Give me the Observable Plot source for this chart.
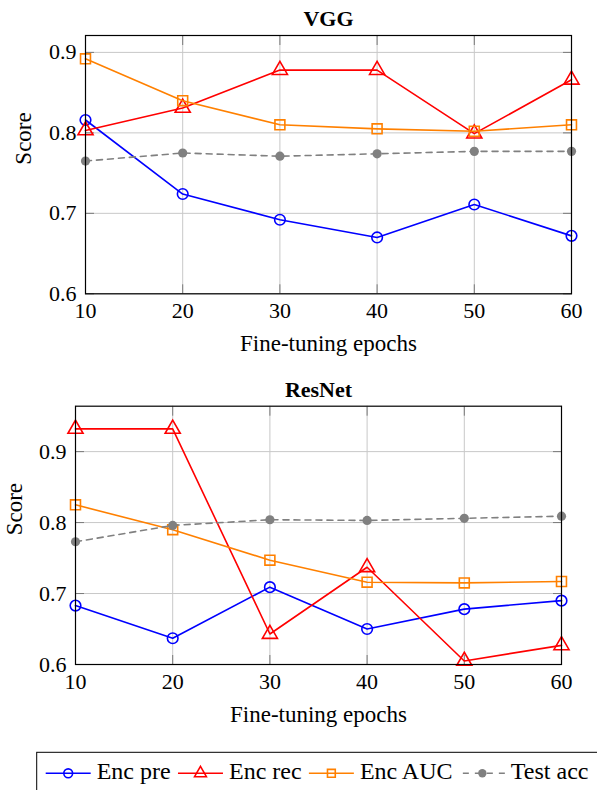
<!DOCTYPE html>
<html><head><meta charset="utf-8">
<script src="https://cdn.jsdelivr.net/npm/d3@7"></script>
<script src="https://cdn.jsdelivr.net/npm/@observablehq/plot@0.6"></script>
<style>
body{margin:0;background:#fff;}
#chart{width:597px;overflow:hidden;}
#chart svg{display:block;}
#chart svg, #chart svg text{font-family:"Liberation Serif","DejaVu Serif",serif !important;}
</style>
</head><body><div id="chart"></div>
<script>
const epochs = [10, 20, 30, 40, 50, 60];
const yTicks = [0.6, 0.7, 0.8, 0.9];
const seriesNames = ["Enc pre", "Enc rec", "Enc AUC", "Test acc"];
const seriesColors = ["#0000ff", "#ff0000", "#ff8000", "#808080"];
const seriesSymbols = ["circle", "triangle", "square", "circle"];

const vggEncPre  = [0.816, 0.724, 0.692, 0.670, 0.711, 0.672];
const vggEncRec  = [0.803, 0.831, 0.878, 0.878, 0.799, 0.866];
const vggEncAUC  = [0.892, 0.840, 0.810, 0.805, 0.802, 0.810];
const vggTestAcc = [0.765, 0.775, 0.771, 0.774, 0.777, 0.777];

const resEncPre  = [0.683, 0.637, 0.709, 0.650, 0.678, 0.690];
const resEncRec  = [0.932, 0.932, 0.643, 0.737, 0.605, 0.627];
const resEncAUC  = [0.825, 0.790, 0.747, 0.716, 0.715, 0.717];
const resTestAcc = [0.773, 0.796, 0.804, 0.803, 0.806, 0.809];

const FS = 22;
const blank = () => "";

function panel(title, vals, yDomain, m, height) {
  const marks = [
    Plot.gridX(epochs, {stroke: "#c8c8c8", strokeOpacity: 1}),
    Plot.gridY(yTicks, {stroke: "#c8c8c8", strokeOpacity: 1}),
    // inner tick marks on all four sides
    Plot.axisX({anchor: "bottom", ticks: epochs, tickSize: -9, tickFormat: blank, label: null, stroke: "#7a7a7a"}),
    Plot.axisX({anchor: "top", ticks: epochs, tickSize: -9, tickFormat: blank, label: null, stroke: "#7a7a7a"}),
    Plot.axisY({anchor: "left", ticks: yTicks, tickSize: -9, tickFormat: blank, label: null, stroke: "#7a7a7a"}),
    Plot.axisY({anchor: "right", ticks: yTicks, tickSize: -9, tickFormat: blank, label: null, stroke: "#7a7a7a"}),
    // tick labels
    Plot.axisX({ticks: epochs, tickSize: 0, tickPadding: 8.5, label: null, fontSize: FS, fill: "#000"}),
    Plot.axisY({ticks: yTicks, tickFormat: d3.format(".1f"), tickSize: 0, tickPadding: 9, label: null, fontSize: FS, fill: "#000"})
  ];
  seriesNames.forEach((s, i) => {
    const rows = epochs.map((e, j) => ({epoch: e, value: vals[i][j]}));
    marks.push(Plot.line(rows, {x: "epoch", y: "value", stroke: seriesColors[i], strokeWidth: 1.6,
      strokeDasharray: s === "Test acc" ? "6,5" : null}));
    if (s === "Test acc") {
      marks.push(Plot.dot(rows, {x: "epoch", y: "value", r: 4.6, fill: seriesColors[i], stroke: "none"}));
    } else {
      marks.push(Plot.dot(rows, {x: "epoch", y: "value", symbol: seriesSymbols[i],
        r: s === "Enc pre" ? 5.3 : 5.6, fill: "none", stroke: seriesColors[i], strokeWidth: 1.6}));
    }
  });
  marks.push(Plot.frame({stroke: "#000", strokeWidth: 1.2}));
  marks.push(Plot.text([title], {frameAnchor: "top", lineAnchor: "middle", dy: m.titleDy, fontWeight: "bold", fontSize: FS, fill: "#000"}));
  marks.push(Plot.text(["Fine-tuning epochs"], {frameAnchor: "bottom", lineAnchor: "middle", dy: m.xlabDy, fontSize: 23, fill: "#000"}));
  marks.push(Plot.text(["Score"], {frameAnchor: "left", lineAnchor: "middle", dx: m.ylabDx, rotate: -90, fontSize: 23, fill: "#000"}));
  return Plot.plot({
    width: 597, height,
    marginLeft: m.left, marginRight: m.right, marginTop: m.top, marginBottom: m.bottom,
    style: {fontSize: FS + "px", background: "#fff", color: "#000", overflow: "visible"},
    x: {domain: [10, 60]},
    y: {domain: yDomain},
    marks
  });
}

const chart = document.getElementById("chart");
chart.appendChild(panel("VGG",
  [vggEncPre, vggEncRec, vggEncAUC, vggTestAcc], [0.6, 0.921],
  {left: 85, right: 26, top: 35, bottom: 66.7, titleDy: -16.5, xlabDy: 50, ylabDx: -61.5}, 360));
chart.appendChild(panel("ResNet",
  [resEncPre, resEncRec, resEncAUC, resTestAcc], [0.6, 0.964],
  {left: 75, right: 36, top: 45.7, bottom: 76, titleDy: -16.5, xlabDy: 50, ylabDx: -61}, 380));

// Legend
const leg = d3.create("svg").attr("width", 597).attr("height", 50)
  .style("font-size", "24px").style("display", "block");
leg.append("rect").attr("x", 36.7).attr("y", 12.3).attr("width", 580).attr("height", 45)
  .attr("fill", "none").attr("stroke", "#000").attr("stroke-width", 1);
chart.appendChild(leg.node());
const lineY = 33.3, textY = 39.3;
let x = 45.7;
seriesNames.forEach((s, i) => {
  const g = leg.append("g");
  const x0 = x, x1 = x + 45;
  g.append("line").attr("x1", x0).attr("x2", x1).attr("y1", lineY).attr("y2", lineY)
    .attr("stroke", seriesColors[i]).attr("stroke-width", 1.6)
    .attr("stroke-dasharray", s === "Test acc" ? "6,6" : null)
    .attr("stroke-dashoffset", s === "Test acc" ? -3 : null);
  const cx = (x0 + x1) / 2;
  const sym = s === "Enc rec" ? d3.symbolTriangle : s === "Enc AUC" ? d3.symbolSquare : d3.symbolCircle;
  const r = s === "Test acc" ? 4.2 : 4.4;
  g.append("path").attr("d", d3.symbol(sym, Math.PI * r * r)()).attr("transform", `translate(${cx},${lineY})`)
    .attr("fill", s === "Test acc" ? seriesColors[i] : "none")
    .attr("stroke", s === "Test acc" ? "none" : seriesColors[i]).attr("stroke-width", 1.6);
  const t = g.append("text").attr("x", x1 + 6).attr("y", textY).attr("fill", "#000").text(s);
  const w = t.node().getComputedTextLength();
  x = x1 + 6 + w + 7.3;
});
</script>
</body></html>
